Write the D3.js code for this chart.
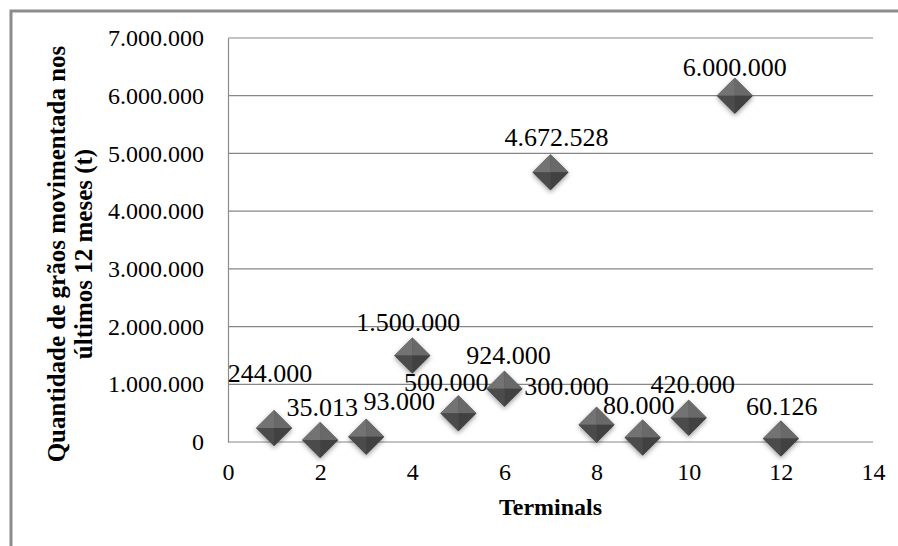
<!DOCTYPE html>
<html>
<head>
<meta charset="utf-8">
<script src="https://cdn.jsdelivr.net/npm/d3@7/dist/d3.min.js"></script>
<style>
  html, body { margin: 0; padding: 0; background: #fff; }
  svg { display: block; }
  text { font-family: "Liberation Serif", "Times New Roman", serif; fill: #000; }
</style>
</head>
<body>
<svg id="chart" width="898" height="546"></svg>
<script>
// Terminal number and grain volume handled in the last 12 months (t)
const terminals = [1, 2, 3, 4, 5, 6, 7, 8, 9, 10, 11, 12];
const volumes = [244000, 35013, 93000, 1500000, 500000, 924000, 4672528, 300000, 80000, 420000, 6000000, 60126];

// Axis ticks
const xTicks = [0, 2, 4, 6, 8, 10, 12, 14];
const yTicks = [0, 1000000, 2000000, 3000000, 4000000, 5000000, 6000000, 7000000];

// Label nudges (px) relative to each marker, so labels do not collide
const labelDx = [-4, 2, 33, -4, -12, 4, 6, -30, -4, 4, 0, 1];
const labelDy = [-55, -33, -36, -34, -31, -34, -35, -39, -32, -34, -29, -33];

const xTitle = "Terminals";
const yTitleLines = ["Quantidade de grãos movimentada nos", "últimos 12 meses (t)"];

const ptBR = d3.formatLocale({ decimal: ",", thousands: ".", grouping: [3], currency: ["R$", ""] });
const fmt = ptBR.format(",d");

const svg = d3.select("#chart");
const W = 898, H = 546;
const plot = { left: 228, right: 873, top: 38, bottom: 442 };

const x = d3.scaleLinear().domain([0, 14]).range([plot.left, plot.right]);
const y = d3.scaleLinear().domain([0, 7000000]).range([plot.bottom, plot.top]);

// Outer chart frame (only top and left edges fall inside the view)
svg.append("rect")
  .attr("x", 11).attr("y", 11)
  .attr("width", W + 20).attr("height", H + 20)
  .attr("fill", "none").attr("stroke", "#8c8c8c").attr("stroke-width", 3);

// Defs: marker shadow
const defs = svg.append("defs");
const f = defs.append("filter").attr("id", "shadow")
  .attr("x", "-50%").attr("y", "-50%").attr("width", "200%").attr("height", "200%");
f.append("feDropShadow").attr("dx", 0).attr("dy", 2).attr("stdDeviation", 2.5)
  .attr("flood-color", "#000").attr("flood-opacity", 0.4);

// Horizontal gridlines
svg.append("g")
  .selectAll("line")
  .data(yTicks)
  .join("line")
  .attr("x1", plot.left).attr("x2", plot.right)
  .attr("y1", d => y(d)).attr("y2", d => y(d))
  .attr("stroke", "#878787").attr("stroke-width", 1.2);

// Y axis
const yAxis = svg.append("g")
  .attr("transform", `translate(${plot.left},0)`)
  .call(d3.axisLeft(y).tickValues(yTicks).tickFormat(fmt).tickSize(0).tickPadding(24));
yAxis.select(".domain").attr("stroke", "#8c8c8c").attr("stroke-width", 1.2);
yAxis.selectAll("text").style("font-size", "24px").style("font-family", "Liberation Serif");

// X axis
const xAxis = svg.append("g")
  .attr("transform", `translate(0,${plot.bottom})`)
  .call(d3.axisBottom(x).tickValues(xTicks).tickFormat(d3.format("d")).tickSize(0).tickPadding(21));
xAxis.select(".domain").remove();
xAxis.selectAll("text").style("font-size", "24px").style("font-family", "Liberation Serif");

// Axis titles
svg.append("text")
  .attr("x", (plot.left + plot.right) / 2).attr("y", 515)
  .attr("text-anchor", "middle")
  .style("font-size", "24px").style("font-weight", "bold")
  .text(xTitle);

const yt = svg.append("text")
  .attr("transform", "translate(0,254) rotate(-90)")
  .attr("text-anchor", "middle")
  .style("font-size", "25px").style("font-weight", "bold");
yt.selectAll("tspan")
  .data(yTitleLines)
  .join("tspan")
  .attr("x", 0)
  .attr("y", (d, i) => 65 + i * 27)
  .text(d => d);

// Diamond markers with faceted shading
const data = terminals.map((t, i) => ({ t, v: volumes[i], dx: labelDx[i], dy: labelDy[i] }));
const r = 18;
const facets = [
  { pts: [[0, -r], [0, 0], [-r, 0]], fill: "#737373" },
  { pts: [[0, -r], [r, 0], [0, 0]], fill: "#696969" },
  { pts: [[-r, 0], [0, 0], [0, r]], fill: "#4b4b4b" },
  { pts: [[0, 0], [r, 0], [0, r]], fill: "#414141" }
];
const line = d3.line();

const marks = svg.append("g")
  .selectAll("g.pt")
  .data(data)
  .join("g")
  .attr("class", "pt")
  .attr("transform", d => `translate(${x(d.t)},${y(d.v)})`);

marks.append("path")
  .attr("d", line([[0, -r], [r, 0], [0, r], [-r, 0]]) + "Z")
  .attr("fill", "#555")
  .attr("filter", "url(#shadow)");
marks.selectAll("path.facet")
  .data(facets)
  .join("path")
  .attr("class", "facet")
  .attr("d", d => line(d.pts) + "Z")
  .attr("fill", d => d.fill);

// Value labels
svg.append("g")
  .selectAll("text")
  .data(data)
  .join("text")
  .attr("x", d => x(d.t) + d.dx)
  .attr("y", d => y(d.v) + d.dy)
  .attr("dy", "0.35em")
  .attr("text-anchor", "middle")
  .style("font-size", "26px")
  .text(d => fmt(d.v));
</script>
</body>
</html>
